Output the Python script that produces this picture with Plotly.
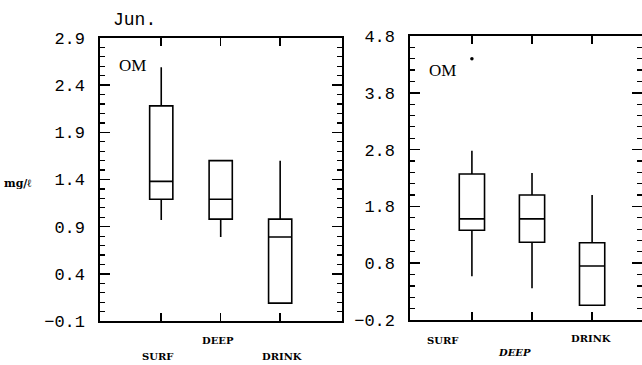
import plotly.graph_objects as go

categories = ["SURF", "DEEP", "DRINK"]

# Left panel (Jun., OM, mg/l)
left_lower = [0.97, 0.79, 0.09]
left_q1 = [1.19, 0.98, 0.09]
left_median = [1.38, 1.19, 0.79]
left_q3 = [2.18, 1.60, 0.98]
left_upper = [2.59, 1.60, 1.60]

# Right panel (OM)
right_lower = [0.57, 0.36, 0.06]
right_q1 = [1.38, 1.17, 0.06]
right_median = [1.58, 1.58, 0.75]
right_q3 = [2.37, 2.00, 1.16]
right_upper = [2.78, 2.39, 2.00]
right_outlier_cat = ["SURF"]
right_outlier_val = [4.40]

left_tick0, left_dtick, left_minor = -0.1, 0.5, 0.1
right_tick0, right_dtick, right_minor = -0.2, 1.0, 0.2

W, H = 642, 365
fig = go.Figure()

box_style = dict(line=dict(color="black", width=1.6), fillcolor="white",
                 whiskerwidth=0, boxpoints=False, showlegend=False, hoverinfo="skip")

fig.add_trace(go.Box(x=categories, lowerfence=left_lower, q1=left_q1, median=left_median,
                     q3=left_q3, upperfence=left_upper, width=0.39,
                     xaxis="x", yaxis="y", **box_style))
fig.add_trace(go.Box(x=categories, lowerfence=right_lower, q1=right_q1, median=right_median,
                     q3=right_q3, upperfence=right_upper, width=0.42,
                     xaxis="x2", yaxis="y2", **box_style))
fig.add_trace(go.Scatter(x=right_outlier_cat, y=right_outlier_val, mode="markers",
                         marker=dict(color="black", size=3.5), xaxis="x2", yaxis="y2",
                         showlegend=False, hoverinfo="skip"))

tickfont = dict(family="Liberation Mono", size=17, color="black")
common_x = dict(type="category", categoryorder="array", categoryarray=categories,
                showline=True, linecolor="black", linewidth=1.6, mirror="allticks",
                ticks="inside", ticklen=8, tickwidth=1.5, tickcolor="black",
                showticklabels=False, showgrid=False, zeroline=False, automargin=False)
common_y = dict(showline=True, linecolor="black", linewidth=1.6, mirror="allticks",
                ticks="inside", ticklen=10, tickwidth=1.5, tickcolor="black",
                tickfont=tickfont, showgrid=False, zeroline=False, ticklabelstandoff=10,
                automargin=False, tickmode="linear", tickformat=".1f")

fig.update_layout(
    width=W, height=H, margin=dict(l=0, r=0, t=0, b=0, autoexpand=False),
    paper_bgcolor="white", plot_bgcolor="white",
    xaxis=dict(domain=[100 / W, 342 / W], range=[-1.03, 3.04], anchor="y", **common_x),
    yaxis=dict(domain=[1 - 321 / H, 1 - 38 / H], range=[-0.1, 2.9], anchor="x",
               tick0=left_tick0, dtick=left_dtick,
               minor=dict(dtick=left_minor, tick0=left_tick0, ticks="inside", ticklen=5,
                          tickcolor="black", tickwidth=1.2, showgrid=False),
               **common_y),
    xaxis2=dict(domain=[410 / W, 1.0], range=[-1.03, 2.83], anchor="y2", **common_x),
    yaxis2=dict(domain=[1 - 320 / H, 1 - 36 / H], range=[-0.2, 4.8], anchor="x2",
                tick0=right_tick0, dtick=right_dtick,
                minor=dict(dtick=right_minor, tick0=right_tick0, ticks="inside", ticklen=5,
                           tickcolor="black", tickwidth=1.2, showgrid=False),
                **common_y),
)

catfont = dict(family="DejaVu Serif", size=10, color="black")
ann = []
# left panel category labels (staggered)
for cat, yy, xs in [("SURF", 356, -4), ("DEEP", 340, -3), ("DRINK", 356, 2)]:
    ann.append(dict(x=cat, xref="x", y=1 - yy / H, yref="paper", text=f"<b>{cat}</b>",
                    showarrow=False, xshift=xs, font=catfont, xanchor="center", yanchor="middle"))
for cat, yy, xs, it in [("SURF", 340, -29, False), ("DEEP", 352, -18, True), ("DRINK", 338, -1, False)]:
    t = f"<b><i>{cat}</i></b>" if it else f"<b>{cat}</b>"
    ann.append(dict(x=cat, xref="x2", y=1 - yy / H, yref="paper", text=t,
                    showarrow=False, xshift=xs, font=catfont, xanchor="center", yanchor="middle"))
ann.append(dict(x=111 / W, y=1 - 20 / H, xref="paper", yref="paper", text="Jun.",
                showarrow=False, xanchor="left", yanchor="middle",
                font=dict(family="Liberation Mono", size=18, color="black")))
ann.append(dict(x=117 / W, y=1 - 65 / H, xref="paper", yref="paper", text="OM",
                showarrow=False, xanchor="left", yanchor="middle",
                font=dict(family="Liberation Serif", size=17, color="black")))
ann.append(dict(x=427 / W, y=1 - 70 / H, xref="paper", yref="paper", text="OM",
                showarrow=False, xanchor="left", yanchor="middle",
                font=dict(family="Liberation Serif", size=17, color="black")))
ann.append(dict(x=2 / W, y=1 - 183 / H, xref="paper", yref="paper", text="<b>mg/ℓ</b>",
                showarrow=False, xanchor="left", yanchor="middle",
                font=dict(family="DejaVu Serif", size=11, color="black")))
fig.update_layout(annotations=ann, hovermode=False)

fig.write_html("out.html", config={"displayModeBar": False, "staticPlot": True},
               post_script="document.body.style.margin='0px';document.body.style.overflow='hidden';")
